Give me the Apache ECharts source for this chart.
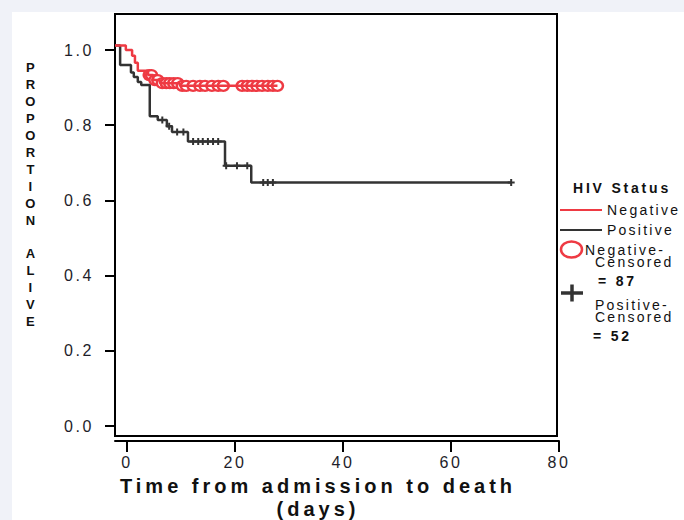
<!DOCTYPE html>
<html>
<head>
<meta charset="utf-8">
<title>HIV Status survival</title>
<script src="https://cdn.jsdelivr.net/npm/echarts@6/dist/echarts.min.js"></script>
<style>
  html, body { margin: 0; padding: 0; background: #f0f2f8; }
  #chart { position: absolute; left: 12px; top: 12px; width: 672px; height: 508px; background: #fff; }
  #chart text { letter-spacing: 0.16em; }
  #chart text[style*="bold"] { letter-spacing: 0.2em; }
</style>
</head>
<body>
<div id="chart"></div>
<script>
// Kaplan-Meier steps (days, proportion alive)
const negTime = [0, 1.9, 3.0, 3.5, 4.0, 5.8, 6.7, 7.9, 11.4, 28.5]
const negSurv = [1.0, 0.988, 0.973, 0.955, 0.934, 0.923, 0.910, 0.902, 0.895, 0.895]
const posTime = [0, 0.9, 2.8, 3.3, 4.0, 4.6, 6.1, 7.5, 9.1, 10.0, 12.8, 19.3, 23.9, 69.5]
const posSurv = [1.0, 0.949, 0.930, 0.918, 0.905, 0.897, 0.816, 0.806, 0.790, 0.775, 0.750, 0.687, 0.644, 0.644]

// censored cases
const negCensTime = [6.0, 6.4, 7.0, 7.5, 8.3, 9.0, 9.6, 10.3, 11.0, 11.8, 12.5, 13.7, 14.9, 15.8, 17.0, 18.1, 19.0, 22.3, 23.2, 24.0, 24.9, 25.8, 26.8, 27.7, 28.5]
const negCensSurv = [0.923, 0.923, 0.910, 0.910, 0.902, 0.902, 0.902, 0.902, 0.902, 0.895, 0.895, 0.895, 0.895, 0.895, 0.895, 0.895, 0.895, 0.895, 0.895, 0.895, 0.895, 0.895, 0.895, 0.895, 0.895]
const posCensTime = [8.3, 9.5, 10.9, 12.0, 13.7, 14.6, 15.4, 16.3, 17.2, 18.1, 19.5, 21.4, 23.2, 26.0, 26.8, 27.7, 69.5]
const posCensSurv = [0.806, 0.790, 0.775, 0.775, 0.750, 0.750, 0.750, 0.750, 0.750, 0.750, 0.687, 0.687, 0.687, 0.644, 0.644, 0.644, 0.644]

const xTicks = [0, 20, 40, 60, 80]
const legendNames = ['Negative', 'Positive']

const RED = '#ee3a43'
const DARK = '#333333'
const FONT = 'Liberation Sans'

const pairs = (xs, ys) => xs.map((x, i) => [x, ys[i]])

const chart = echarts.init(document.getElementById('chart'), null, { renderer: 'svg' })

const option = {
  animation: false,
  textStyle: { fontFamily: FONT },
  grid: [
    { left: 103, top: 2, width: 442, height: 422, show: true, borderColor: '#000', borderWidth: 2, backgroundColor: 'transparent', outerBoundsMode: 'none' },
    { left: 103, top: 38, width: 444, height: 376, outerBoundsMode: 'none' }
  ],
  xAxis: [
    { gridIndex: 0, type: 'value', min: 0, max: 77.54, show: false },
    {
      gridIndex: 1,
      type: 'value',
      min: -2.22,
      max: 80,
      position: 'bottom',
      offset: 15,
      axisLine: { show: true, onZero: false, lineStyle: { color: '#000', width: 2 } },
      axisTick: { show: true, length: 11, customValues: xTicks, lineStyle: { color: '#000', width: 2 } },
      axisLabel: { customValues: xTicks, margin: 13, fontSize: 16, color: '#1e1e2a' },
      splitLine: { show: false },
      name: 'Time from admission to death\n(days)',
      nameLocation: 'middle',
      nameGap: 32,
      nameTextStyle: { fontSize: 20, fontWeight: 'bold', color: '#111', lineHeight: 23, padding: [0, 38, 0, 0] }
    }
  ],
  yAxis: [
    { gridIndex: 0, type: 'value', min: -0.0156, max: 1.0819, show: false },
    {
      gridIndex: 1,
      type: 'value',
      min: 0,
      max: 1,
      interval: 0.2,
      axisLine: { show: false, onZero: false },
      axisTick: { show: true, length: 10, lineStyle: { color: '#000', width: 2 } },
      axisLabel: { margin: 21, fontSize: 16, color: '#1e1e2a', formatter: v => v.toFixed(1) },
      splitLine: { show: false }
    }
  ],
  legend: {
    data: legendNames,
    orient: 'vertical',
    left: 548,
    top: 190,
    padding: 0,
    itemWidth: 42,
    itemHeight: 2,
    itemGap: 4,
    icon: 'rect',
    selectedMode: false,
    textStyle: { fontSize: 14, color: '#111', lineHeight: 16 }
  },
  graphic: [
    {
      type: 'text', x: 19.7, y: 47.5,
      style: {
        text: 'P\nR\nO\nP\nO\nR\nT\nI\nO\nN\n \nA\nL\nI\nV\nE',
        align: 'center', verticalAlign: 'top', lineHeight: 16.9,
        fontSize: 13, fontWeight: 'bold', fontFamily: FONT, fill: '#111'
      }
    },
    { type: 'text', x: 561, y: 175.5, style: { text: 'HIV Status', fontSize: 14, fontWeight: 'bold', fontFamily: FONT, fill: '#111', verticalAlign: 'middle' } },
    { type: 'ellipse', shape: { cx: 559.5, cy: 237.5, rx: 10.5, ry: 8 }, style: { fill: '#fff', stroke: RED, lineWidth: 2.5 } },
    { type: 'text', x: 573, y: 238, style: { text: 'Negative-', fontSize: 14, fontFamily: FONT, fill: '#111', verticalAlign: 'middle' } },
    { type: 'text', x: 583, y: 249.5, style: { text: 'Censored', fontSize: 14, fontFamily: FONT, fill: '#111', verticalAlign: 'middle' } },
    { type: 'text', x: 586, y: 269, style: { text: '= 87', fontSize: 14, fontWeight: 'bold', fontFamily: FONT, fill: '#111', verticalAlign: 'middle' } },
    { type: 'line', shape: { x1: 549, y1: 281, x2: 571, y2: 281 }, style: { stroke: DARK, lineWidth: 3.5 } },
    { type: 'line', shape: { x1: 560, y1: 272.5, x2: 560, y2: 289.5 }, style: { stroke: DARK, lineWidth: 3.5 } },
    { type: 'text', x: 583, y: 293, style: { text: 'Positive-', fontSize: 14, fontFamily: FONT, fill: '#111', verticalAlign: 'middle' } },
    { type: 'text', x: 583, y: 304.5, style: { text: 'Censored', fontSize: 14, fontFamily: FONT, fill: '#111', verticalAlign: 'middle' } },
    { type: 'text', x: 581, y: 324, style: { text: '= 52', fontSize: 14, fontWeight: 'bold', fontFamily: FONT, fill: '#111', verticalAlign: 'middle' } }
  ],
  series: [
    {
      name: 'Positive',
      type: 'line',
      xAxisIndex: 0,
      yAxisIndex: 0,
      step: 'end',
      symbol: 'none',
      data: pairs(posTime, posSurv),
      itemStyle: { color: DARK },
      lineStyle: { color: DARK, width: 2.5 }
    },
    {
      name: 'Negative',
      type: 'line',
      xAxisIndex: 0,
      yAxisIndex: 0,
      step: 'end',
      symbol: 'none',
      data: pairs(negTime, negSurv),
      itemStyle: { color: RED },
      lineStyle: { color: RED, width: 2.5 }
    },
    {
      name: 'Negative-Censored = 87',
      type: 'scatter',
      xAxisIndex: 0,
      yAxisIndex: 0,
      symbol: 'path://M0,50A50,50,0,1,1,100,50A50,50,0,1,1,0,50Z',
      symbolSize: [11, 10],
      data: pairs(negCensTime, negCensSurv),
      itemStyle: { color: '#fff', borderColor: RED, borderWidth: 2.4, opacity: 1 }
    },
    {
      name: 'Positive-Censored = 52',
      type: 'scatter',
      xAxisIndex: 0,
      yAxisIndex: 0,
      symbol: 'path://M2.5,0H4.5V2.5H7V4.5H4.5V7H2.5V4.5H0V2.5H2.5Z',
      symbolSize: 7,
      data: pairs(posCensTime, posCensSurv),
      itemStyle: { color: DARK, opacity: 1 }
    }
  ]
}

chart.setOption(option)
</script>
</body>
</html>
